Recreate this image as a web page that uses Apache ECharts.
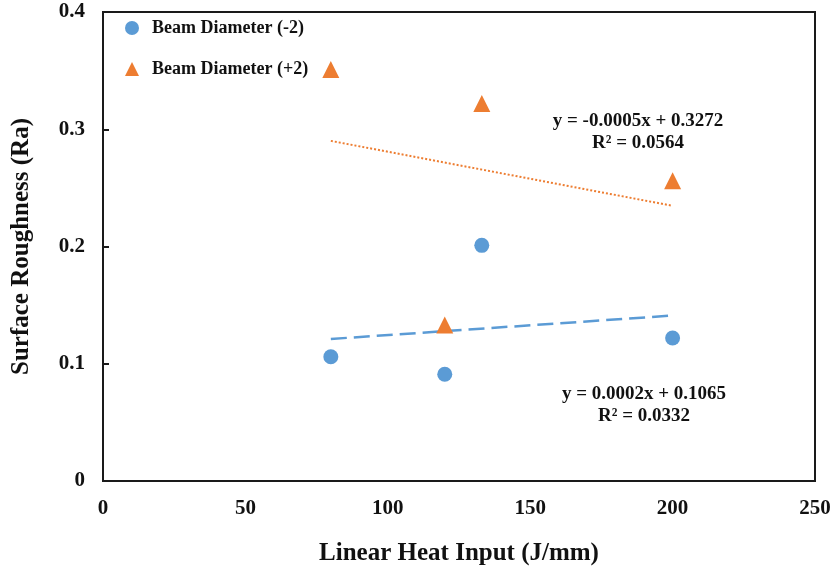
<!DOCTYPE html>
<html>
<head>
<meta charset="utf-8">
<script src="https://cdn.jsdelivr.net/npm/echarts@6/dist/echarts.min.js"></script>
<style>
  html, body { margin: 0; padding: 0; background: #fff; }
  #chart { width: 835px; height: 573px; }
</style>
</head>
<body>
<div id="chart"></div>
<script>
// Linear heat input (J/mm) for each run
const heatInput = [80, 120, 133, 200];
// Surface roughness Ra for each beam diameter setting
const roughMinus2 = [0.106, 0.091, 0.201, 0.122];
const roughPlus2 = [0.351, 0.133, 0.322, 0.256];
const seriesNames = ['Beam Diameter (-2)', 'Beam Diameter (+2)'];
const trendTextMinus2 = ['y = 0.0002x + 0.1065', 'R² = 0.0332'];
const trendTextPlus2 = ['y = -0.0005x + 0.3272', 'R² = 0.0564'];
const xTicks = [0, 50, 100, 150, 200, 250];
const yTicks = [0, 0.1, 0.2, 0.3, 0.4];

const BLUE = '#5B9BD5';
const ORANGE = '#ED7D31';
const FONT = '"Liberation Serif", "Times New Roman", serif';

// Least-squares line through the points, spanning the data's x range
function trend(xs, ys) {
  const n = xs.length;
  const mx = xs.reduce((a, b) => a + b, 0) / n;
  const my = ys.reduce((a, b) => a + b, 0) / n;
  let sxy = 0, sxx = 0;
  for (let i = 0; i < n; i++) {
    sxy += (xs[i] - mx) * (ys[i] - my);
    sxx += (xs[i] - mx) * (xs[i] - mx);
  }
  const slope = sxy / sxx;
  const icpt = my - slope * mx;
  const x0 = Math.min(...xs), x1 = Math.max(...xs);
  return [[x0, icpt + slope * x0], [x1, icpt + slope * x1]];
}

const pts = (ys) => heatInput.map((x, i) => [x, ys[i]]);

const chart = echarts.init(document.getElementById('chart'), null, { renderer: 'canvas' });

const eqStyle = {
  fontFamily: FONT, fontWeight: 'bold', fontSize: 19, fill: '#111',
  textAlign: 'center', textVerticalAlign: 'middle', lineHeight: 22
};

chart.setOption({
  animation: false,
  backgroundColor: '#fff',
  grid: {
    left: 103, right: 20, top: 12, bottom: 92,
    show: true, borderColor: '#1a1a1a', borderWidth: 2, backgroundColor: 'transparent'
  },
  legend: {
    left: 120, top: 14, orient: 'vertical', itemGap: 23,
    itemWidth: 14, itemHeight: 14,
    data: [
      { name: seriesNames[0], icon: 'circle' },
      { name: seriesNames[1], icon: 'triangle' }
    ],
    textStyle: { fontFamily: FONT, fontWeight: 'bold', fontSize: 18, color: '#111', padding: [0, 0, 0, 8] }
  },
  xAxis: {
    type: 'value', min: 0, max: 250, interval: 50,
    name: 'Linear Heat Input (J/mm)', nameLocation: 'middle', nameGap: 60,
    nameTextStyle: { fontFamily: FONT, fontWeight: 'bold', fontSize: 25, color: '#111' },
    axisLine: { show: true, lineStyle: { color: '#1a1a1a', width: 2 } },
    axisTick: { show: false },
    splitLine: { show: false },
    axisLabel: {
      fontFamily: FONT, fontWeight: 'bold', fontSize: 21, color: '#111', margin: 17,
      formatter: (v) => xTicks.includes(v) ? String(v) : ''
    }
  },
  yAxis: {
    type: 'value', min: 0, max: 0.4, interval: 0.1,
    name: 'Surface Roughness (Ra)', nameLocation: 'middle', nameGap: 69,
    nameTextStyle: { fontFamily: FONT, fontWeight: 'bold', fontSize: 25, color: '#111' },
    axisLine: { show: true, lineStyle: { color: '#1a1a1a', width: 2 } },
    axisTick: { show: true, inside: true, length: 6, lineStyle: { color: '#1a1a1a', width: 2 } },
    splitLine: { show: false },
    axisLabel: {
      fontFamily: FONT, fontWeight: 'bold', fontSize: 21, color: '#111', margin: 18,
      formatter: (v) => {
        const t = yTicks.find((k) => Math.abs(k - v) < 1e-9);
        return t === undefined ? '' : (t === 0 ? '0' : t.toFixed(1));
      }
    }
  },
  series: [
    {
      name: seriesNames[0], type: 'scatter', symbol: 'circle', symbolSize: 15,
      itemStyle: { color: BLUE, opacity: 1 }, data: pts(roughMinus2), z: 3
    },
    {
      name: seriesNames[1], type: 'scatter', symbol: 'triangle', symbolSize: 17,
      itemStyle: { color: ORANGE, opacity: 1 }, data: pts(roughPlus2), z: 4
    },
    {
      name: 'trend-2', type: 'line', data: trend(heatInput, roughMinus2),
      symbol: 'none', lineStyle: { color: BLUE, width: 2.5, type: [16, 7] }, z: 2,
      silent: true
    },
    {
      name: 'trend+2', type: 'line', data: trend(heatInput, roughPlus2),
      symbol: 'none', lineStyle: { color: ORANGE, width: 2, type: [2, 2] }, z: 2,
      silent: true
    }
  ],
  graphic: [
    { type: 'text', x: 638, y: 132, style: Object.assign({ text: trendTextPlus2.join('\n') }, eqStyle), z: 10 },
    { type: 'text', x: 644, y: 405, style: Object.assign({ text: trendTextMinus2.join('\n') }, eqStyle), z: 10 }
  ]
});
</script>
</body>
</html>
